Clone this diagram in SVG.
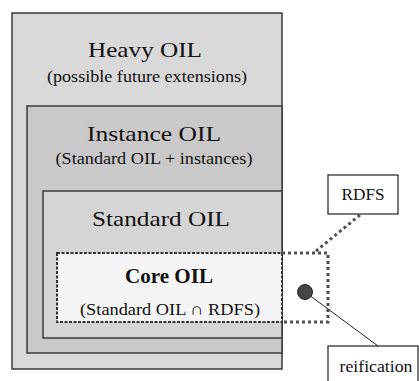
<svg xmlns="http://www.w3.org/2000/svg" width="419" height="381" viewBox="0 0 419 381">
<style>
.box{stroke:#3a3a3a;stroke-width:1.5}
.t{font-family:"Liberation Serif","Times New Roman",serif;fill:#111;text-anchor:middle}
.title{font-size:22px}
.sub{font-size:17px}
.dot{fill:none;stroke:#505050;stroke-width:3;stroke-dasharray:3,3}
</style>
<rect width="419" height="381" fill="#fff"/>
<g id="heavy">
<rect class="box" x="12" y="13" width="270" height="356" fill="#d9d9d9"/>
<text class="t title" x="145" y="57" textLength="114" lengthAdjust="spacingAndGlyphs">Heavy OIL</text>
<text class="t sub" x="147" y="82" textLength="200" lengthAdjust="spacingAndGlyphs">(possible future extensions)</text>
</g>
<g id="instance">
<rect class="box" x="27" y="106" width="255" height="247" fill="#c9c9c9"/>
<text class="t title" x="154" y="141" textLength="134" lengthAdjust="spacingAndGlyphs">Instance OIL</text>
<text class="t sub" x="154" y="164" textLength="197" lengthAdjust="spacingAndGlyphs">(Standard OIL + instances)</text>
</g>
<g id="standard">
<rect class="box" x="43" y="191" width="239" height="147" fill="#d5d5d5"/>
<text class="t title" x="161" y="226" textLength="138" lengthAdjust="spacingAndGlyphs">Standard OIL</text>
</g>
<g id="core">
<rect x="57" y="253" width="225" height="69" fill="#f5f5f5" stroke="#333" stroke-width="2" stroke-dasharray="3,1.5"/>
<text class="t title" x="169" y="283" font-weight="bold" textLength="88" lengthAdjust="spacingAndGlyphs">Core OIL</text>
<text class="t sub" x="170" y="315" textLength="180" lengthAdjust="spacingAndGlyphs">(Standard OIL ∩ RDFS)</text>
</g>
<g id="rdfs">
<rect x="328" y="175" width="70" height="39" fill="#fff" stroke="#222" stroke-width="1.2"/>
<text class="t sub" x="363" y="200" textLength="43" lengthAdjust="spacingAndGlyphs">RDFS</text>
</g>
<g id="reification">
<rect x="328" y="346" width="90" height="40" fill="#fff" stroke="#222" stroke-width="1.2"/>
<text class="t sub" x="376" y="372" textLength="73" lengthAdjust="spacingAndGlyphs">reification</text>
</g>
<g id="connectors">
<path class="dot" d="M282 253 H328 V322 H282"/>
<path class="dot" d="M360 215 L316 251"/>
<line x1="305" y1="292" x2="378" y2="346" stroke="#222" stroke-width="1"/>
<circle cx="305" cy="292" r="7.5" fill="#454545" stroke="#222" stroke-width="1"/>
</g>
</svg>
